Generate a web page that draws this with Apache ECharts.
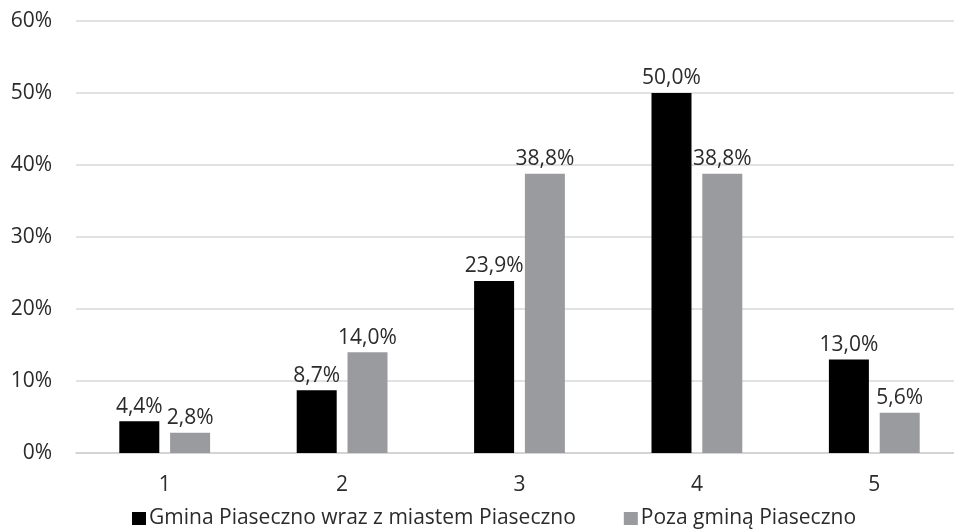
<!DOCTYPE html>
<html>
<head>
<meta charset="utf-8">
<script src="https://cdn.jsdelivr.net/npm/echarts@6/dist/echarts.min.js"></script>
<style>
  html, body { margin: 0; padding: 0; background: #ffffff; overflow: hidden; }
  /* drawing surface is a bit wider than the window; the plot runs past the right edge */
  #chart { width: 963px; height: 529px; }
</style>
</head>
<body>
<div id="chart"></div>
<script>
// Ratings 1-5, share of respondents (%)
const categories = ['1', '2', '3', '4', '5'];
const seriesNames = ['Gmina Piaseczno wraz z miastem Piaseczno', 'Poza gminą Piaseczno'];
const gminaValues = [4.4, 8.7, 23.9, 50.0, 13.0];
const pozaValues = [2.8, 14.0, 38.8, 38.8, 5.6];
const yTicks = [0, 10, 20, 30, 40, 50, 60];

const FONT = 'Open Sans';
const TEXT = '#2b2b2b';
const FS = 21;

const fmtPct = v => v.toFixed(1).replace('.', ',') + '%';

const chart = echarts.init(document.getElementById('chart'), null, { renderer: 'canvas' });

const labelCfg = {
  show: true,
  position: 'top',
  distance: 4,
  color: TEXT,
  fontFamily: FONT,
  fontSize: FS,
  formatter: p => fmtPct(p.value)
};

chart.setOption({
  animation: false,
  backgroundColor: '#ffffff',
  grid: { left: 76, right: 0, top: 21, bottom: 76, containLabel: false },
  legend: {
    left: 127,
    bottom: -5,
    itemWidth: 14,
    itemHeight: 13,
    itemGap: 48,
    icon: 'rect',
    textStyle: { color: TEXT, fontFamily: FONT, fontSize: FS, padding: [0, 0, 0, -2] },
    data: seriesNames
  },
  xAxis: {
    type: 'category',
    data: categories,
    axisLine: { show: true, lineStyle: { color: '#d0d0d0', width: 1.5 } },
    axisTick: { show: false },
    axisLabel: { color: TEXT, fontFamily: FONT, fontSize: FS, margin: 22 }
  },
  yAxis: {
    type: 'value',
    min: yTicks[0],
    max: yTicks[yTicks.length - 1],
    interval: yTicks[1] - yTicks[0],
    axisLine: { show: false },
    axisTick: { show: false },
    splitLine: { show: true, lineStyle: { color: '#d9d9d9', width: 1.5 } },
    axisLabel: {
      color: TEXT, fontFamily: FONT, fontSize: FS, margin: 24,
      formatter: v => v + '%'
    }
  },
  series: [
    {
      name: seriesNames[0],
      type: 'bar',
      data: gminaValues,
      barWidth: 40,
      barGap: '27%',
      itemStyle: { color: '#000000' },
      label: labelCfg
    },
    {
      name: seriesNames[1],
      type: 'bar',
      data: pozaValues,
      barWidth: 40,
      itemStyle: { color: '#9a9b9f' },
      label: labelCfg
    }
  ]
});
</script>
</body>
</html>
